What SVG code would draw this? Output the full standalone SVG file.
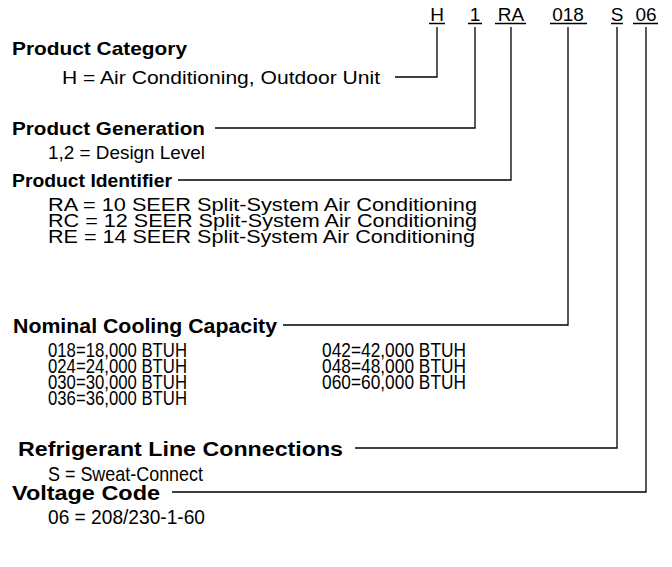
<svg xmlns="http://www.w3.org/2000/svg" width="672" height="567" viewBox="0 0 672 567">
<style>
text{font-family:"Liberation Sans",Arial,sans-serif;fill:#000}
.h{font-weight:bold;font-size:19px}
.t{font-size:19px}
.hn{font-weight:bold;font-size:20.5px}
.tn{font-size:20.5px}
.c{font-size:19px;text-anchor:middle}
.ln{stroke:#000;stroke-width:1.3;fill:none}
</style>
<rect width="672" height="567" fill="#fff"/>
<g id="codes">
<text class="c" x="437" y="21">H</text>
<text class="c" x="475" y="21">1</text>
<text class="c" x="511" y="21">RA</text>
<text class="c" x="568" y="21">018</text>
<text class="c" x="617" y="21">S</text>
<text class="c" x="646" y="21">06</text>
<path class="ln" d="M429 23.5H445M468 23.5H482M495 23.5H526M550 23.5H587M611 23.5H623M633 23.5H658"/>
</g>
<g id="category">
<text class="h" x="12" y="55" textLength="175" lengthAdjust="spacingAndGlyphs">Product Category</text>
<text class="t" x="62" y="84" textLength="318" lengthAdjust="spacingAndGlyphs">H = Air Conditioning, Outdoor Unit</text>
</g>
<g id="generation">
<text class="h" x="12" y="135" textLength="193" lengthAdjust="spacingAndGlyphs">Product Generation</text>
<text class="t" x="48" y="159" textLength="157" lengthAdjust="spacingAndGlyphs">1,2 = Design Level</text>
</g>
<g id="identifier">
<text class="h" x="12" y="187" textLength="160" lengthAdjust="spacingAndGlyphs">Product Identifier</text>
<text class="t" x="48" y="211" textLength="429" lengthAdjust="spacingAndGlyphs">RA = 10 SEER Split-System Air Conditioning</text>
<text class="t" x="48" y="227" textLength="429" lengthAdjust="spacingAndGlyphs">RC = 12 SEER Split-System Air Conditioning</text>
<text class="t" x="48" y="243" textLength="427" lengthAdjust="spacingAndGlyphs">RE = 14 SEER Split-System Air Conditioning</text>
</g>
<g id="capacity">
<text class="hn" x="13" y="332.5" textLength="264" lengthAdjust="spacingAndGlyphs">Nominal Cooling Capacity</text>
<text class="tn" x="48" y="356.5" textLength="139" lengthAdjust="spacingAndGlyphs">018=18,000 BTUH</text>
<text class="tn" x="48" y="372.5" textLength="139" lengthAdjust="spacingAndGlyphs">024=24,000 BTUH</text>
<text class="tn" x="48" y="388.5" textLength="139" lengthAdjust="spacingAndGlyphs">030=30,000 BTUH</text>
<text class="tn" x="48" y="404.5" textLength="139" lengthAdjust="spacingAndGlyphs">036=36,000 BTUH</text>
<text class="tn" x="322" y="356.5" textLength="144" lengthAdjust="spacingAndGlyphs">042=42,000 BTUH</text>
<text class="tn" x="322" y="372.5" textLength="144" lengthAdjust="spacingAndGlyphs">048=48,000 BTUH</text>
<text class="tn" x="322" y="388.5" textLength="144" lengthAdjust="spacingAndGlyphs">060=60,000 BTUH</text>
</g>
<g id="refrigerant">
<text class="hn" x="18" y="455.5" textLength="325" lengthAdjust="spacingAndGlyphs">Refrigerant Line Connections</text>
<text class="tn" x="48" y="480.5" textLength="155" lengthAdjust="spacingAndGlyphs">S = Sweat-Connect</text>
</g>
<g id="voltage">
<text class="hn" x="12" y="499.5" textLength="148" lengthAdjust="spacingAndGlyphs">Voltage Code</text>
<text class="tn" x="48" y="523.5" textLength="157" lengthAdjust="spacingAndGlyphs">06 = 208/230-1-60</text>
</g>
<g id="connectors">
<path class="ln" d="M395 77H437V27"/>
<path class="ln" d="M215 128H475V27"/>
<path class="ln" d="M178 180H511V27"/>
<path class="ln" d="M283 325H568V27"/>
<path class="ln" d="M355 448H617V27"/>
<path class="ln" d="M172 492H646V27"/>
</g>
</svg>
